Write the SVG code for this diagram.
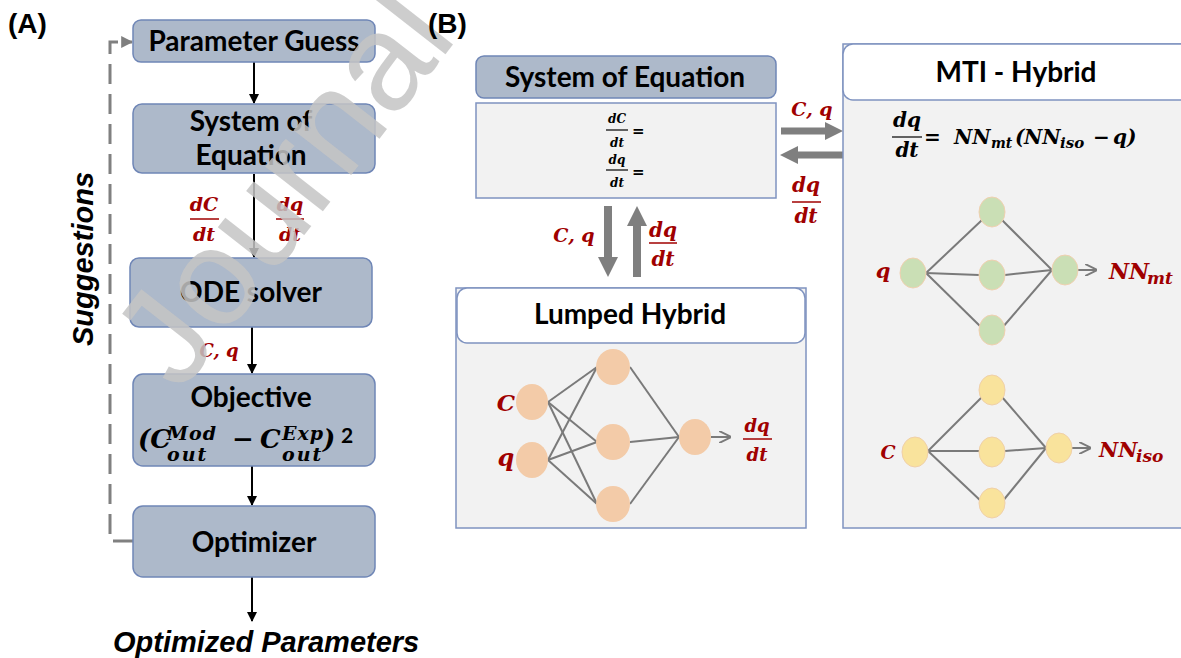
<svg xmlns="http://www.w3.org/2000/svg" width="1181" height="658" viewBox="0 0 1181 658">
<defs>
<style>
.box{fill:#adb9ca;stroke:#6f86b6;stroke-width:1.5}
.lbl{font-family:Lato,"Liberation Sans",sans-serif;font-weight:bold;font-size:28px;fill:#000;text-anchor:middle}
.pan{font-family:"Liberation Sans",Arial,sans-serif;font-weight:bold;font-size:28px;fill:#000}
.bi{font-family:"Liberation Sans",Arial,sans-serif;font-weight:bold;font-style:italic;font-size:29px;fill:#000}
.m{font-family:"DejaVu Serif",serif;font-weight:bold;font-style:italic;fill:#a00000}
.mk{font-family:"DejaVu Serif",serif;font-weight:bold;font-style:italic;fill:#000}
.fl{stroke:#a00000;stroke-width:1.5}
.fk{stroke:#000;stroke-width:1.2}
.thin{stroke:#000;stroke-width:2;fill:none;marker-end:url(#ah)}
.edge{stroke:#7a7a7a;stroke-width:2;fill:none}
.thick{fill:#7f7f7f}
.peach{fill:#f3cba8}
.green{fill:#cadfb5;stroke:#f0d0b0;stroke-width:1}
.yellow{fill:#f9e39c;stroke:#f0d0a8;stroke-width:1}
.panel{fill:#f2f2f2;stroke:#7f93c0;stroke-width:1.5}
.hdr{fill:#fff;stroke:#7f93c0;stroke-width:1.5}
</style>
<marker id="ah" viewBox="0 0 10 10" refX="9" refY="5" markerWidth="5" markerHeight="5" orient="auto" markerUnits="strokeWidth"><path d="M0,0 L10,5 L0,10 z" fill="#000"/></marker>
<marker id="ahg" viewBox="0 0 10 10" refX="9" refY="5" markerWidth="4" markerHeight="4" orient="auto" markerUnits="strokeWidth"><path d="M0,0 L10,5 L0,10 z" fill="#7f7f7f"/></marker>
<marker id="ahs" viewBox="0 0 10 10" refX="9" refY="5" markerWidth="6" markerHeight="6" orient="auto" markerUnits="strokeWidth"><path d="M0,0 L10,5 L0,10" fill="none" stroke="#7a7a7a" stroke-width="1.6"/></marker>
</defs>
<rect width="1181" height="658" fill="#fff"/>

<text class="pan" x="8" y="33">(A)</text>

<g id="connectors">
<line class="thin" x1="254" y1="62" x2="254" y2="103"/>
<line class="thin" x1="254" y1="174" x2="254" y2="257"/>
<line class="thin" x1="252" y1="327" x2="252" y2="373"/>
<line class="thin" x1="252" y1="466" x2="252" y2="505"/>
<line class="thin" x1="252" y1="577" x2="252" y2="621"/>
<path d="M133,541 H110 V42 H132" fill="none" stroke="#808080" stroke-width="3" stroke-dasharray="20,10" marker-end="url(#ahg)"/>
<path class="thick" d="M781,127.5 H825 V122 L843,131 L825,140 V134.5 H781 z"/>
<path class="thick" d="M843,151.5 H798 V146 L780,155 L798,164 V158.5 H843 z"/>
<path class="thick" d="M604,206 V257 H598 L608,277 L618,257 H612 V206 z"/>
<path class="thick" d="M633,277 V226 H627 L637,206 L647,226 H641 V277 z"/>
</g>

<text class="bi" transform="translate(93,346) rotate(-90)">Suggestions</text>

<g id="param-guess">
<rect class="box" x="133" y="20" width="242" height="42" rx="8"/>
<text class="lbl" x="254" y="51">Parameter Guess</text>
</g>
<g id="system-a">
<rect class="box" x="133" y="104" width="242" height="69" rx="9"/>
<text class="lbl" x="251" y="131">System of</text>
<text class="lbl" x="251" y="165">Equation</text>
</g>
<g id="labels-a">
<text class="m" x="204" y="211" font-size="19" text-anchor="middle">dC</text>
<line class="fl" x1="190" y1="219" x2="219" y2="219"/>
<text class="m" x="204" y="241" font-size="19" text-anchor="middle">dt</text>
<text class="m" x="290" y="211" font-size="19" text-anchor="middle">dq</text>
<line class="fl" x1="276" y1="219" x2="304" y2="219"/>
<text class="m" x="290" y="241" font-size="19" text-anchor="middle">dt</text>
<text class="m" x="219" y="357" font-size="18" text-anchor="middle">C, q</text>
</g>
<g id="ode">
<rect class="box" x="130" y="258" width="242" height="69" rx="9"/>
<text class="lbl" x="251" y="302">ODE solver</text>
</g>
<g id="objective">
<rect class="box" x="133" y="374" width="242" height="92" rx="10"/>
<text class="lbl" x="251" y="407">Objective</text>
<text class="mk" font-size="26"><tspan x="138" y="448">(C</tspan><tspan x="167" y="440" font-size="19" letter-spacing="1">Mod</tspan><tspan x="167" y="461" font-size="19" letter-spacing="2">out</tspan><tspan x="232" y="448">−</tspan><tspan x="260" y="448">C</tspan><tspan x="282" y="440" font-size="19" letter-spacing="1">Exp</tspan><tspan x="282" y="461" font-size="19" letter-spacing="2">out</tspan><tspan x="323" y="448">)</tspan><tspan x="341" y="443" font-family="Lato,sans-serif" font-style="normal" font-size="21">2</tspan></text>
</g>
<g id="optimizer">
<rect class="box" x="133" y="506" width="242" height="71" rx="10"/>
<text class="lbl" x="254" y="552">Optimizer</text>
</g>
<text class="bi" x="113" y="652" font-size="30">Optimized Parameters</text>

<g id="system-b">
<rect class="box" x="476" y="56" width="300" height="42" rx="8"/>
<text class="lbl" x="625" y="87">System of Equation</text>
<rect class="panel" x="476" y="103" width="300" height="95"/>
<text class="mk" x="617" y="123" font-size="12" text-anchor="middle">dC</text>
<line class="fk" x1="606" y1="130" x2="628" y2="130"/>
<text class="mk" x="617" y="147" font-size="12" text-anchor="middle">dt</text>
<text class="mk" x="632" y="136" font-size="15">=</text>
<text class="mk" x="617" y="164" font-size="12" text-anchor="middle">dq</text>
<line class="fk" x1="606" y1="170" x2="628" y2="170"/>
<text class="mk" x="617" y="187" font-size="12" text-anchor="middle">dt</text>
<text class="mk" x="632" y="177" font-size="15">=</text>
</g>
<g id="labels-b">
<text class="m" x="812" y="116" font-size="19" text-anchor="middle">C, q</text>
<text class="m" x="806" y="192" font-size="20" text-anchor="middle">dq</text>
<line class="fl" x1="792" y1="202" x2="821" y2="202"/>
<text class="m" x="806" y="223" font-size="20" text-anchor="middle">dt</text>
<text class="m" x="574" y="242" font-size="19" text-anchor="middle">C, q</text>
<text class="m" x="663" y="237" font-size="20" text-anchor="middle">dq</text>
<line class="fl" x1="649" y1="243" x2="677" y2="243"/>
<text class="m" x="663" y="266" font-size="20" text-anchor="middle">dt</text>
</g>

<g id="lumped">
<rect class="panel" x="456" y="288" width="350" height="240"/>
<rect class="hdr" x="457" y="288" width="348" height="55" rx="10"/>
<text class="lbl" x="630" y="324">Lumped Hybrid</text>
<g class="edge">
<line x1="548" y1="402" x2="597" y2="367"/><line x1="548" y1="402" x2="597" y2="442"/><line x1="548" y1="402" x2="597" y2="504"/>
<line x1="548" y1="460" x2="597" y2="367"/><line x1="548" y1="460" x2="597" y2="442"/><line x1="548" y1="460" x2="597" y2="504"/>
<line x1="630" y1="367" x2="679" y2="437"/><line x1="630" y1="442" x2="679" y2="437"/><line x1="630" y1="504" x2="679" y2="437"/>
<line x1="711" y1="437" x2="730" y2="437" marker-end="url(#ahs)"/>
</g>
<ellipse class="peach" cx="532" cy="402" rx="16" ry="18"/>
<ellipse class="peach" cx="532" cy="460" rx="16" ry="18"/>
<ellipse class="peach" cx="613" cy="367" rx="17" ry="18"/>
<ellipse class="peach" cx="613" cy="442" rx="17" ry="18"/>
<ellipse class="peach" cx="613" cy="504" rx="17" ry="18"/>
<ellipse class="peach" cx="695" cy="437" rx="16" ry="18"/>
<text class="m" x="506" y="411" font-size="23" text-anchor="middle">C</text>
<text class="m" x="506" y="466" font-size="24" text-anchor="middle">q</text>
<text class="m" x="757" y="432" font-size="18" text-anchor="middle">dq</text>
<line class="fl" x1="743" y1="439" x2="772" y2="439" stroke-width="2"/>
<text class="m" x="757" y="461" font-size="18" text-anchor="middle">dt</text>
</g>

<g id="mti">
<rect class="panel" x="843" y="44" width="350" height="484"/>
<rect class="hdr" x="843" y="44" width="350" height="56" rx="10"/>
<text class="lbl" x="1016" y="82">MTI - Hybrid</text>
<text class="mk" x="907" y="127" font-size="20" text-anchor="middle">dq</text>
<line class="fk" x1="892" y1="137" x2="922" y2="137" stroke-width="1.5"/>
<text class="mk" x="907" y="157" font-size="20" text-anchor="middle">dt</text>
<text class="mk" font-size="20"><tspan x="924" y="144">=</tspan><tspan x="954" y="144">NN</tspan><tspan x="991" y="148" font-size="14">mt</tspan><tspan x="1015" y="144">(</tspan><tspan x="1024" y="144">NN</tspan><tspan x="1060" y="148" font-size="15">iso</tspan><tspan x="1093" y="144">−</tspan><tspan x="1113" y="144">q)</tspan></text>
<g class="edge">
<line x1="926" y1="273" x2="982" y2="220"/><line x1="926" y1="273" x2="979" y2="275"/><line x1="926" y1="273" x2="982" y2="328"/>
<line x1="1002" y1="220" x2="1052" y2="270"/><line x1="1005" y1="275" x2="1052" y2="270"/><line x1="1002" y1="328" x2="1052" y2="270"/>
<line x1="1078" y1="270" x2="1096" y2="270" marker-end="url(#ahs)"/>
<line x1="928" y1="451" x2="982" y2="397"/><line x1="928" y1="451" x2="979" y2="451"/><line x1="928" y1="451" x2="982" y2="502"/>
<line x1="1002" y1="397" x2="1046" y2="448"/><line x1="1005" y1="451" x2="1046" y2="448"/><line x1="1002" y1="502" x2="1046" y2="448"/>
<line x1="1072" y1="448" x2="1090" y2="448" marker-end="url(#ahs)"/>
</g>
<ellipse class="green" cx="913" cy="273" rx="13" ry="15"/>
<ellipse class="green" cx="992" cy="212" rx="13" ry="15"/>
<ellipse class="green" cx="992" cy="275" rx="13" ry="15"/>
<ellipse class="green" cx="992" cy="330" rx="13" ry="15"/>
<ellipse class="green" cx="1065" cy="270" rx="13" ry="15"/>
<ellipse class="yellow" cx="915" cy="452" rx="13" ry="15"/>
<ellipse class="yellow" cx="992" cy="390" rx="13" ry="15"/>
<ellipse class="yellow" cx="992" cy="452" rx="13" ry="15"/>
<ellipse class="yellow" cx="992" cy="503" rx="13" ry="15"/>
<ellipse class="yellow" cx="1059" cy="448" rx="13" ry="15"/>
<text class="m" x="883" y="278" font-size="21" text-anchor="middle">q</text>
<text class="m" x="888" y="459" font-size="19" text-anchor="middle">C</text>
<text class="m" font-size="22"><tspan x="1109" y="279">NN</tspan><tspan x="1147" y="284" font-size="17">mt</tspan></text>
<text class="m" font-size="21"><tspan x="1099" y="457">NN</tspan><tspan x="1136" y="462" font-size="17">iso</tspan></text>
</g>

<text transform="translate(180,394) rotate(-52)" font-family="'Liberation Sans',Arial,sans-serif" font-size="138" fill="#c4c4c4" fill-opacity="0.85">Journal</text>
<text class="pan" x="428" y="33">(B)</text>
</svg>
